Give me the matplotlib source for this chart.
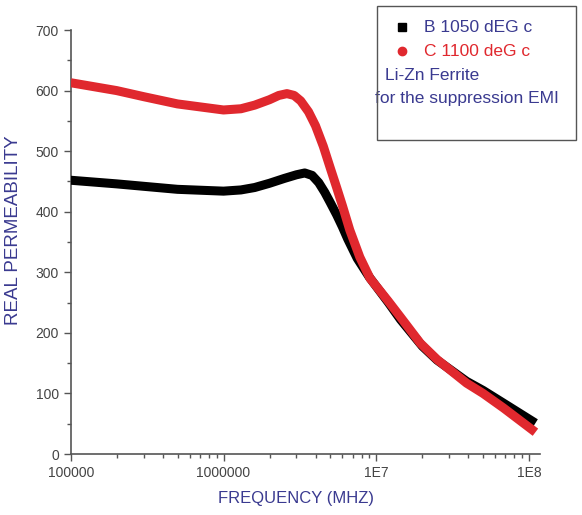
import matplotlib.pyplot as plt
from matplotlib.ticker import LogLocator, FixedLocator, MultipleLocator
from matplotlib.patches import Rectangle
from matplotlib.lines import Line2D

plt.rcParams['font.family'] = ['Liberation Sans', 'DejaVu Sans']

# B 1050 deg C (black)
freq_b = [1e5, 2e5, 3e5, 5e5, 1e6, 1.3e6, 1.6e6, 2e6, 2.5e6, 3e6, 3.4e6, 3.8e6,
          4.2e6, 4.6e6, 5e6, 5.5e6, 6e6, 6.5e6, 7.5e6, 9e6, 1.2e7, 1.44e7,
          2e7, 2.5e7, 3.9e7, 5e7, 6.8e7, 1.1e8]
perm_b = [452, 446, 442, 437, 434, 436, 440, 447, 455, 461, 464, 460,
          448, 432, 415, 395, 375, 355, 323, 292, 250, 222,
          178, 155, 120, 105, 84, 51]

# C 1100 deg C (red)
freq_c = [1e5, 2e5, 3e5, 5e5, 1e6, 1.3e6, 1.6e6, 2e6, 2.3e6, 2.6e6, 2.9e6,
          3.2e6, 3.6e6, 4e6, 4.5e6, 5e6, 5.5e6, 6e6, 6.7e6, 7.8e6, 9.1e6,
          1.2e7, 1.44e7, 1.94e7, 2.5e7, 3.9e7, 5e7, 6.8e7, 1.1e8]
perm_c = [613, 600, 590, 578, 568, 570, 576, 585, 592, 595, 592,
          583, 565, 542, 508, 472, 440, 410, 370, 325, 290,
          252, 226, 183, 156, 117, 100, 76, 36]

red = '#e0282e'
navy = '#3a3a90'

fig = plt.figure(figsize=(5.82, 5.15), dpi=100)
ax = fig.add_axes([0.1215, 0.1184, 0.8065, 0.8233])

ax.plot(freq_b, perm_b, color='black', lw=6.5, solid_capstyle='butt',
        solid_joinstyle='round', zorder=3)
ax.plot(freq_c, perm_c, color=red, lw=6.5, solid_capstyle='butt',
        solid_joinstyle='round', zorder=4)

ax.set_xscale('log')
ax.set_xlim(1e5, 1.18e8)
ax.set_ylim(0, 700)

ax.xaxis.set_major_locator(FixedLocator([1e5, 1e6, 1e7, 1e8]))
ax.set_xticklabels(['100000', '1000000', '1E7', '1E8'])
ax.xaxis.set_minor_locator(LogLocator(base=10, subs=range(2, 10)))
ax.xaxis.set_minor_formatter(plt.NullFormatter())
ax.yaxis.set_major_locator(MultipleLocator(100))
ax.yaxis.set_minor_locator(MultipleLocator(50))

for s in ['top', 'right']:
    ax.spines[s].set_visible(False)
for s in ['left', 'bottom']:
    ax.spines[s].set_color('#555555')
    ax.spines[s].set_linewidth(1.2)

ax.tick_params(which='major', direction='out', length=5, width=1, color='#555555',
               labelsize=10, labelcolor='#444444')
ax.tick_params(which='minor', direction='out', length=3, width=1, color='#555555')

ax.set_xlabel('FREQUENCY (MHZ)', color=navy, fontsize=12)
ax.set_ylabel('REAL PERMEABILITY', color=navy, fontsize=13.5)
ax.xaxis.set_label_coords(0.48, -0.088)
ax.yaxis.set_label_coords(-0.104, 0.528)

# legend box drawn in figure coordinates
W, H = 582, 515
box = Rectangle((377 / W, 1 - 140 / H), (576 - 377) / W, (140 - 6) / H,
                transform=fig.transFigure, fill=False, edgecolor='#555555',
                lw=1.0, zorder=10)
fig.patches.append(box)
fig.add_artist(Line2D([402 / W], [1 - 27 / H], marker='s', color='black',
                      markersize=6, linestyle='none', transform=fig.transFigure))
fig.add_artist(Line2D([402 / W], [1 - 51 / H], marker='o', color=red,
                      markersize=6, linestyle='none', transform=fig.transFigure))
fig.text(424 / W, 1 - 27 / H, 'B 1050 dEG c', color=navy, fontsize=12.5, va='center')
fig.text(424 / W, 1 - 51 / H, 'C 1100 deG c', color=red, fontsize=12.5, va='center')
fig.text(385 / W, 1 - 76 / H, 'Li-Zn Ferrite', color=navy, fontsize=12.5, va='center')
fig.text(375 / W, 1 - 98 / H, 'for the suppression EMI', color=navy, fontsize=12.5, va='center')

fig.savefig('out.png', dpi=100)
